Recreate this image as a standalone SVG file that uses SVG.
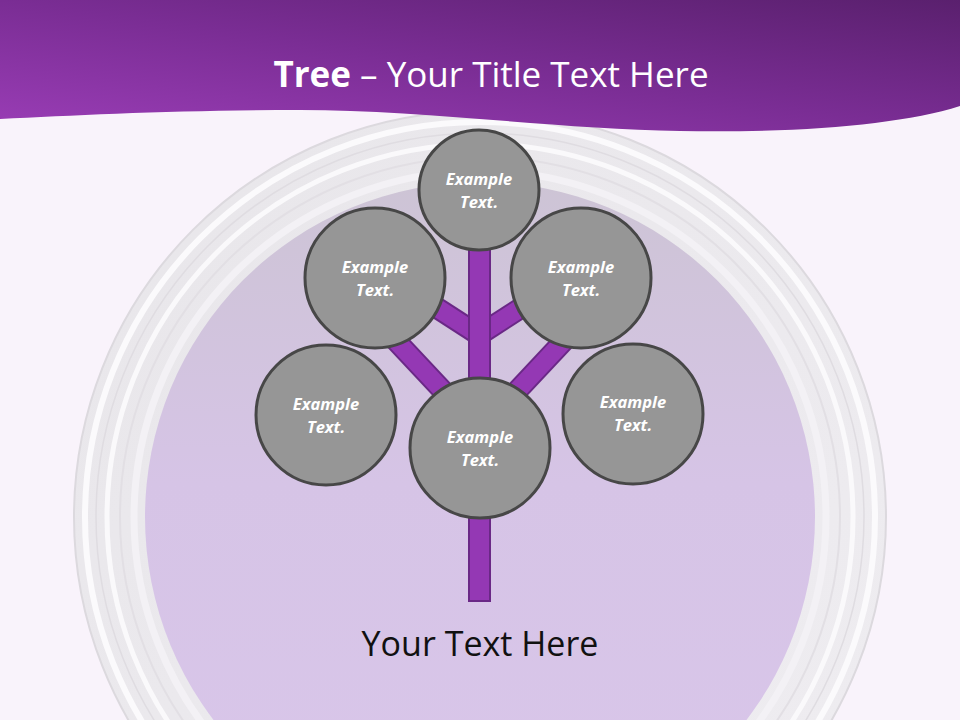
<svg xmlns="http://www.w3.org/2000/svg" width="960" height="720" viewBox="0 0 960 720">
<defs>
<linearGradient id="ban" x1="0" y1="1" x2="1" y2="0">
<stop offset="0" stop-color="#9a3db6"/>
<stop offset="0.5" stop-color="#7a2d94"/>
<stop offset="1" stop-color="#5a206e"/>
</linearGradient>
<linearGradient id="inner" x1="0" y1="0" x2="0" y2="1">
<stop offset="0" stop-color="#cdc4d5"/>
<stop offset="0.45" stop-color="#d6c4e6"/>
<stop offset="1" stop-color="#d9c6ea"/>
</linearGradient>
<linearGradient id="rim" x1="0" y1="0" x2="1" y2="1">
<stop offset="0" stop-color="#e8e6ea"/>
<stop offset="1" stop-color="#efedf1"/>
</linearGradient>
<style>
.node circle{fill:#969696;stroke:#474747;stroke-width:3}
.node text{font-family:"Open Sans","Liberation Sans",sans-serif;font-size:16.5px;font-weight:bold;font-style:italic;fill:#ffffff;text-anchor:middle}
.br{stroke:#6a2886;stroke-width:22;stroke-linecap:butt}
.brf{stroke:#9438b4;stroke-width:18;stroke-linecap:butt}
</style>
</defs>
<rect width="960" height="720" fill="#f9f3fb"/>
<g id="plate">
<circle cx="480" cy="517" r="406" fill="url(#rim)" stroke="#dcd9de" stroke-width="2"/>
<circle cx="480" cy="517" r="395" fill="none" stroke="#fbfafc" stroke-width="6"/>
<circle cx="480" cy="517" r="384" fill="none" stroke="#dfdce1" stroke-width="1.5"/>
<circle cx="480" cy="517" r="373" fill="none" stroke="#faf9fb" stroke-width="5"/>
<circle cx="480" cy="517" r="360" fill="none" stroke="#e2dfe4" stroke-width="2"/>
<circle cx="480" cy="517" r="346" fill="none" stroke="#f3f1f5" stroke-width="7"/>
<circle cx="480" cy="517" r="335" fill="url(#inner)"/>
</g>
<path d="M0,0 H960 V106 C900,125 800,133 680,131 C560,129 420,110 300,110 C180,110 80,115 0,119 Z" fill="url(#ban)"/>
<text x="491" y="87" font-family="'Open Sans','Liberation Sans',sans-serif" font-size="35" fill="#ffffff" text-anchor="middle"><tspan font-weight="bold">Tree</tspan> – Your Title Text Here</text>
<g id="connectors">
<line class="br" x1="479" y1="335" x2="400" y2="284"/>
<line class="brf" x1="479" y1="335" x2="400" y2="284"/>
<line class="br" x1="479" y1="335" x2="558" y2="284"/>
<line class="brf" x1="479" y1="335" x2="558" y2="284"/>
<line class="br" x1="370" y1="313" x2="475" y2="425"/>
<line class="brf" x1="370" y1="313" x2="475" y2="425"/>
<line class="br" x1="590" y1="313" x2="485" y2="425"/>
<line class="brf" x1="590" y1="313" x2="485" y2="425"/>
<rect x="469" y="240" width="21" height="361" fill="#9438b4" stroke="#6a2886" stroke-width="2"/>
</g>
<g id="n-top" class="node"><circle cx="479" cy="190" r="60"/><text x="479" y="185">Example</text><text x="479" y="208">Text.</text></g>
<g id="n-ul" class="node"><circle cx="375" cy="278" r="70"/><text x="375" y="273">Example</text><text x="375" y="296">Text.</text></g>
<g id="n-ur" class="node"><circle cx="581" cy="278" r="70"/><text x="581" y="273">Example</text><text x="581" y="296">Text.</text></g>
<g id="n-ll" class="node"><circle cx="326" cy="415" r="70"/><text x="326" y="410">Example</text><text x="326" y="433">Text.</text></g>
<g id="n-c" class="node"><circle cx="480" cy="448" r="70"/><text x="480" y="443">Example</text><text x="480" y="466">Text.</text></g>
<g id="n-lr" class="node"><circle cx="633" cy="414" r="70"/><text x="633" y="408">Example</text><text x="633" y="431">Text.</text></g>
<text x="480" y="656" font-family="'Open Sans','Liberation Sans',sans-serif" font-size="34" fill="#111111" text-anchor="middle">Your Text Here</text>
</svg>
